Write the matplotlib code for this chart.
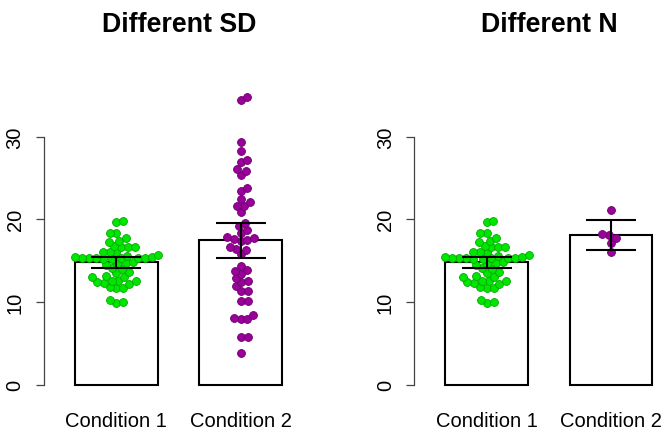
import numpy as np
import matplotlib
matplotlib.use("Agg")
import matplotlib.pyplot as plt

plt.rcParams['font.family'] = ['Liberation Sans', 'DejaVu Sans']

# ---------------- data ----------------
categories = ["Condition 1", "Condition 2"]
titles = ["Different SD", "Different N"]

cond1 = [9.9, 10.0, 10.3,
         11.7, 11.75, 11.8,
         12.2, 12.3, 12.4, 12.5, 12.5, 12.6,
         13.0, 13.0, 13.1,
         13.5, 13.6,
         14.0, 14.1,
         14.5, 14.6, 14.7, 14.8,
         15.2, 15.25, 15.3, 15.3, 15.3, 15.3, 15.35, 15.35, 15.4, 15.4,
         15.6, 15.65,
         16.0, 16.1, 16.1,
         16.6, 16.7, 16.7, 16.8,
         17.3, 17.4, 17.7,
         18.35, 18.4,
         19.7, 19.85]

cond2_sd = [3.8, 5.75, 5.75, 7.9, 8.0, 8.1, 8.45, 10.1, 10.1, 11.3, 11.3, 11.9,
            12.4, 12.6, 12.9, 13.4, 13.75, 13.9, 14.3, 15.8, 16.25, 16.45, 16.65,
            17.4, 17.5, 17.6, 17.8, 17.9, 18.4, 18.75, 19.2, 19.55, 20.9,
            21.6, 21.6, 22.1, 22.5, 23.4, 23.8, 25.4, 25.85, 26.1, 26.9, 27.2,
            28.3, 29.3, 34.4, 34.8]

cond2_n = [16.0, 17.2, 17.8, 18.1, 18.2, 21.1]

sd_means = [14.8, 17.45]
sd_err = [0.67, 2.13]
n_means = [14.8, 18.1]
n_err = [0.67, 1.78]

yticks = [0, 10, 20, 30]

panels = [
    (titles[0], [cond1, cond2_sd], sd_means, sd_err),
    (titles[1], [cond1, cond2_n], n_means, n_err),
]

# ---------------- style ----------------
green_fill, green_edge = '#00e600', '#00a800'
purple_fill, purple_edge = '#9a009a', '#6a006a'
pt_colors = [(green_fill, green_edge), (purple_fill, purple_edge)]

W, H = 665, 431
fig = plt.figure(figsize=(W / 100, H / 100), dpi=100)

bar_pos = [1.0, 2.5]
bar_w = 1.0
ylim = (-1.3, 36.5)
y0_px, y30_px = 385.7, 137.7
ppu_y = (y0_px - y30_px) / 30.0
bot_px = y0_px - ylim[0] * ppu_y
top_px = y0_px - ylim[1] * ppu_y
ppu_x = 82.8
axes_left_px = [44.0, 414.3]
axes_w_px = 250.0
title_x_px = [179, 549]


def swarm(vals_px, d):
    vals_px = np.asarray(vals_px, dtype=float)
    order = np.argsort(vals_px, kind='stable')
    xs = np.zeros(len(vals_px))
    placed = []
    for i in order:
        y = vals_px[i]
        if placed:
            pj = np.array(placed)
            py = vals_px[pj]
            px = xs[pj]
            m = np.abs(py - y) < d
            if m.any():
                py, px = py[m], px[m]
                off = np.sqrt(d ** 2 - (y - py) ** 2)
                cands = np.concatenate([[0.0], px + off, px - off])
                bad = np.array([np.any((c - px) ** 2 + (y - py) ** 2 < 0.999 * d ** 2) for c in cands])
                cands = np.where(bad, np.inf, cands)
                xs[i] = cands[np.argmin(np.abs(cands))]
        placed.append(i)
    return xs


d_px = 6.9
for k, (title, groups, means, errs) in enumerate(panels):
    lp = axes_left_px[k]
    ax = fig.add_axes([lp / W, (H - bot_px) / H, axes_w_px / W, (bot_px - top_px) / H])
    x0 = 0.5 - (75.0 - 44.0) / ppu_x  # data x at axes left edge
    ax.set_xlim(x0, x0 + axes_w_px / ppu_x)
    ax.set_ylim(*ylim)

    ax.bar(bar_pos, means, width=bar_w, color='white', edgecolor='black', linewidth=1.5, zorder=1)

    for g, vals in enumerate(groups):
        offs = swarm(np.array(vals) * ppu_y, d_px) / ppu_x
        fc, ec = pt_colors[g]
        ax.scatter(bar_pos[g] + offs, vals, s=32, facecolor=fc, edgecolor=ec, linewidth=0.6, zorder=2)

    ax.errorbar(bar_pos, means, yerr=errs, fmt='none', ecolor='black', elinewidth=1.5,
                capsize=18, capthick=1.5, zorder=3)

    for s in ['top', 'right', 'bottom']:
        ax.spines[s].set_visible(False)
    ax.spines['left'].set_bounds(0, 30)
    ax.spines['left'].set_color('#444444')
    ax.spines['left'].set_linewidth(0.9)
    ax.set_yticks(yticks)
    ax.set_yticklabels([str(t) for t in yticks], rotation=90, va='center')
    ax.tick_params(axis='y', length=6, width=0.9, color='#444444', pad=8, labelsize=14.5)
    ax.set_xticks(bar_pos)
    ax.set_xticklabels(categories)
    ax.tick_params(axis='x', length=0, pad=11, labelsize=14.5)

    fig.text(title_x_px[k] / W, (H - 32) / H, title, ha='center', va='baseline',
             fontsize=19.3, fontweight='bold')

fig.savefig('out.png', dpi=100)
